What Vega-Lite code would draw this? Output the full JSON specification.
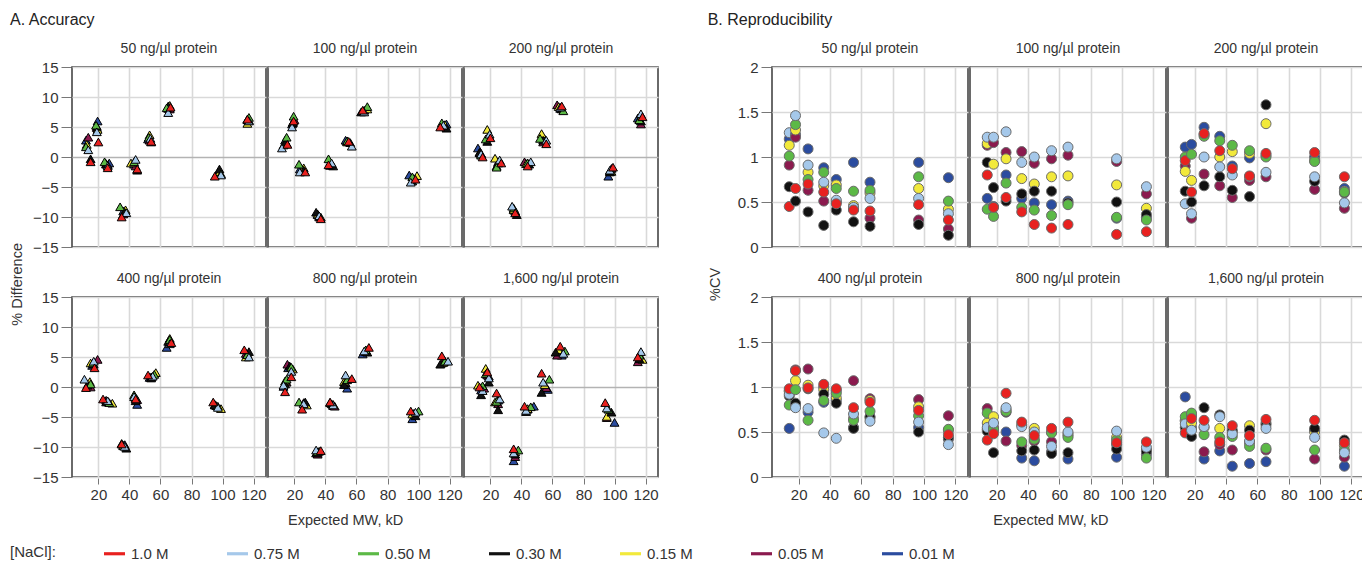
{
"$schema": "https://vega.github.io/schema/vega-lite/v6.json",
"padding": {"left": 10, "top": 12, "right": 2, "bottom": 2},
"config": {
 "font": "Liberation Sans",
 "view": {"stroke": "#3a3a3a", "strokeWidth": 1.5},
 "axis": {"labelFontSize": 15, "labelColor": "#333", "tickColor": "#777", "tickSize": 8, "labelPadding": 3, "gridColor": "#d9d9d9", "gridWidth": 1.6, "domain": false, "title": null},
 "header": {"labelFontSize": 14, "labelColor": "#333"}
},
"datasets": {
"a": [
{"c":50,"n":"0.01","x":12,"y":2.8},{"c":50,"n":"0.05","x":13.5,"y":3.3},{"c":50,"n":"0.15","x":12.5,"y":2.1},{"c":50,"n":"0.30","x":15,"y":-0.3},{"c":50,"n":"0.50","x":12,"y":1.7},{"c":50,"n":"0.75","x":13.5,"y":1.2},{"c":50,"n":"1.0","x":15,"y":-0.8},
{"c":50,"n":"0.01","x":19.5,"y":6},{"c":50,"n":"0.05","x":19,"y":4.9},{"c":50,"n":"0.15","x":19.5,"y":4.6},{"c":50,"n":"0.30","x":19,"y":5.1},{"c":50,"n":"0.50","x":18.5,"y":5.3},{"c":50,"n":"0.75","x":19,"y":4.2},{"c":50,"n":"1.0","x":20,"y":2.5},
{"c":50,"n":"0.01","x":27,"y":-1},{"c":50,"n":"0.05","x":26,"y":-1.3},{"c":50,"n":"0.15","x":25,"y":-1.1},{"c":50,"n":"0.30","x":25,"y":-1.2},{"c":50,"n":"0.50","x":24,"y":-0.8},{"c":50,"n":"0.75","x":26,"y":-1.5},{"c":50,"n":"1.0","x":26,"y":-1.8},
{"c":50,"n":"0.01","x":36,"y":-9},{"c":50,"n":"0.05","x":36,"y":-9.5},{"c":50,"n":"0.15","x":37.5,"y":-8.8},{"c":50,"n":"0.30","x":37,"y":-9.2},{"c":50,"n":"0.50","x":34,"y":-8.3},{"c":50,"n":"0.75","x":38,"y":-9.3},{"c":50,"n":"1.0","x":35,"y":-10},
{"c":50,"n":"0.01","x":43,"y":-1.2},{"c":50,"n":"0.05","x":44,"y":-1.5},{"c":50,"n":"0.15","x":41,"y":-1},{"c":50,"n":"0.30","x":45,"y":-2.2},{"c":50,"n":"0.50","x":43,"y":-0.8},{"c":50,"n":"0.75","x":44,"y":-0.4},{"c":50,"n":"1.0","x":45,"y":-2},
{"c":50,"n":"0.01","x":52,"y":3},{"c":50,"n":"0.05","x":53,"y":2.8},{"c":50,"n":"0.15","x":53,"y":3.7},{"c":50,"n":"0.30","x":54,"y":2.5},{"c":50,"n":"0.50","x":52.5,"y":3.3},{"c":50,"n":"0.75","x":53.5,"y":3.1},{"c":50,"n":"1.0","x":54,"y":2.6},
{"c":50,"n":"0.01","x":65,"y":8.1},{"c":50,"n":"0.05","x":66,"y":8},{"c":50,"n":"0.15","x":66,"y":8.6},{"c":50,"n":"0.30","x":65,"y":8.5},{"c":50,"n":"0.50","x":64,"y":8.2},{"c":50,"n":"0.75","x":65,"y":7.4},{"c":50,"n":"1.0","x":66.5,"y":8.3},
{"c":50,"n":"0.01","x":97,"y":-2.6},{"c":50,"n":"0.05","x":97,"y":-2.7},{"c":50,"n":"0.15","x":98,"y":-2.5},{"c":50,"n":"0.30","x":98,"y":-2},{"c":50,"n":"0.50","x":99,"y":-2.8},{"c":50,"n":"0.75","x":99,"y":-3},{"c":50,"n":"1.0","x":95,"y":-3.2},
{"c":50,"n":"0.01","x":116,"y":6.3},{"c":50,"n":"0.05","x":116,"y":6.2},{"c":50,"n":"0.15","x":116,"y":5.6},{"c":50,"n":"0.30","x":117,"y":6.1},{"c":50,"n":"0.50","x":117,"y":6.6},{"c":50,"n":"0.75","x":117,"y":6},{"c":50,"n":"1.0","x":116,"y":6.3},
{"c":100,"n":"0.01","x":14,"y":2.8},{"c":100,"n":"0.05","x":15,"y":2.3},{"c":100,"n":"0.15","x":13,"y":2},{"c":100,"n":"0.30","x":14.5,"y":2.5},{"c":100,"n":"0.50","x":15,"y":3.3},{"c":100,"n":"0.75","x":12,"y":1.5},{"c":100,"n":"1.0","x":15.5,"y":2.1},
{"c":100,"n":"0.01","x":18.5,"y":5.5},{"c":100,"n":"0.05","x":20,"y":6.2},{"c":100,"n":"0.15","x":19,"y":5.8},{"c":100,"n":"0.30","x":19,"y":5.7},{"c":100,"n":"0.50","x":19.5,"y":6.8},{"c":100,"n":"0.75","x":18.5,"y":5},{"c":100,"n":"1.0","x":19.5,"y":6},
{"c":100,"n":"0.01","x":23.5,"y":-2},{"c":100,"n":"0.05","x":25,"y":-2.3},{"c":100,"n":"0.15","x":26,"y":-1.8},{"c":100,"n":"0.30","x":26,"y":-2.2},{"c":100,"n":"0.50","x":23,"y":-1.2},{"c":100,"n":"0.75","x":23.5,"y":-2.5},{"c":100,"n":"1.0","x":27,"y":-2.5},
{"c":100,"n":"0.01","x":35,"y":-9.6},{"c":100,"n":"0.05","x":36,"y":-10},{"c":100,"n":"0.15","x":35,"y":-9.5},{"c":100,"n":"0.30","x":34,"y":-9.2},{"c":100,"n":"0.50","x":37,"y":-10},{"c":100,"n":"0.75","x":36,"y":-9.8},{"c":100,"n":"1.0","x":37,"y":-10.3},
{"c":100,"n":"0.01","x":43,"y":-1.1},{"c":100,"n":"0.05","x":43,"y":-1.4},{"c":100,"n":"0.15","x":44,"y":-1.2},{"c":100,"n":"0.30","x":45,"y":-1.5},{"c":100,"n":"0.50","x":42,"y":-0.3},{"c":100,"n":"0.75","x":44,"y":-1},{"c":100,"n":"1.0","x":42,"y":-1.3},
{"c":100,"n":"0.01","x":53,"y":2.8},{"c":100,"n":"0.05","x":54,"y":2.6},{"c":100,"n":"0.15","x":54,"y":2.5},{"c":100,"n":"0.30","x":56,"y":2.4},{"c":100,"n":"0.50","x":54,"y":2.7},{"c":100,"n":"0.75","x":57,"y":1.8},{"c":100,"n":"1.0","x":55,"y":2.6},
{"c":100,"n":"0.01","x":64,"y":7.6},{"c":100,"n":"0.05","x":65,"y":7.8},{"c":100,"n":"0.15","x":67,"y":8},{"c":100,"n":"0.30","x":63,"y":7.5},{"c":100,"n":"0.50","x":67,"y":8.4},{"c":100,"n":"0.75","x":65,"y":7.5},{"c":100,"n":"1.0","x":64,"y":7.8},
{"c":100,"n":"0.01","x":94,"y":-3},{"c":100,"n":"0.05","x":97,"y":-3.6},{"c":100,"n":"0.15","x":99,"y":-3.1},{"c":100,"n":"0.30","x":96,"y":-4},{"c":100,"n":"0.50","x":96,"y":-3.3},{"c":100,"n":"0.75","x":95,"y":-4.2},{"c":100,"n":"1.0","x":98,"y":-3.7},
{"c":100,"n":"0.01","x":118,"y":5.5},{"c":100,"n":"0.05","x":116,"y":5.2},{"c":100,"n":"0.15","x":117,"y":5.4},{"c":100,"n":"0.30","x":118,"y":4.8},{"c":100,"n":"0.50","x":115,"y":5.7},{"c":100,"n":"0.75","x":116,"y":5.3},{"c":100,"n":"1.0","x":114,"y":5},
{"c":200,"n":"0.01","x":12,"y":1.5},{"c":200,"n":"0.05","x":14,"y":0.6},{"c":200,"n":"0.15","x":13,"y":0.8},{"c":200,"n":"0.30","x":13,"y":0.7},{"c":200,"n":"0.50","x":14,"y":0.3},{"c":200,"n":"0.75","x":14,"y":0.5},{"c":200,"n":"1.0","x":15,"y":0},
{"c":200,"n":"0.01","x":19,"y":3.6},{"c":200,"n":"0.05","x":19,"y":3.4},{"c":200,"n":"0.15","x":18,"y":4.6},{"c":200,"n":"0.30","x":18,"y":2.6},{"c":200,"n":"0.50","x":17,"y":3},{"c":200,"n":"0.75","x":19.5,"y":3.8},{"c":200,"n":"1.0","x":20,"y":3.2},
{"c":200,"n":"0.01","x":25,"y":-0.8},{"c":200,"n":"0.05","x":25,"y":-1},{"c":200,"n":"0.15","x":23,"y":-0.2},{"c":200,"n":"0.30","x":24,"y":-1.5},{"c":200,"n":"0.50","x":24,"y":-1.7},{"c":200,"n":"0.75","x":26,"y":-0.5},{"c":200,"n":"1.0","x":27,"y":-1},
{"c":200,"n":"0.01","x":35,"y":-8.7},{"c":200,"n":"0.05","x":36,"y":-9},{"c":200,"n":"0.15","x":35,"y":-8.8},{"c":200,"n":"0.30","x":37,"y":-9.6},{"c":200,"n":"0.50","x":35,"y":-8.5},{"c":200,"n":"0.75","x":34,"y":-8.2},{"c":200,"n":"1.0","x":36,"y":-9.3},
{"c":200,"n":"0.01","x":44,"y":-1},{"c":200,"n":"0.05","x":42,"y":-0.8},{"c":200,"n":"0.15","x":43,"y":-1.1},{"c":200,"n":"0.30","x":45,"y":-1.2},{"c":200,"n":"0.50","x":44,"y":-1},{"c":200,"n":"0.75","x":46,"y":-0.8},{"c":200,"n":"1.0","x":44,"y":-1.5},
{"c":200,"n":"0.01","x":55,"y":3},{"c":200,"n":"0.05","x":54,"y":2.5},{"c":200,"n":"0.15","x":53,"y":3.9},{"c":200,"n":"0.30","x":54,"y":2.8},{"c":200,"n":"0.50","x":52,"y":3.1},{"c":200,"n":"0.75","x":56,"y":2.8},{"c":200,"n":"1.0","x":56,"y":2.2},
{"c":200,"n":"0.01","x":65,"y":8.1},{"c":200,"n":"0.05","x":63,"y":8.7},{"c":200,"n":"0.15","x":64,"y":8.4},{"c":200,"n":"0.30","x":66,"y":8},{"c":200,"n":"0.50","x":67,"y":7.7},{"c":200,"n":"0.75","x":65,"y":8.3},{"c":200,"n":"1.0","x":66,"y":8.5},
{"c":200,"n":"0.01","x":96,"y":-3.2},{"c":200,"n":"0.05","x":98,"y":-1.9},{"c":200,"n":"0.15","x":98,"y":-2.4},{"c":200,"n":"0.30","x":97,"y":-2.5},{"c":200,"n":"0.50","x":97,"y":-2.3},{"c":200,"n":"0.75","x":97,"y":-2.2},{"c":200,"n":"1.0","x":99,"y":-1.7},
{"c":200,"n":"0.01","x":115,"y":6.5},{"c":200,"n":"0.05","x":117,"y":5.5},{"c":200,"n":"0.15","x":116,"y":6.3},{"c":200,"n":"0.30","x":117,"y":6},{"c":200,"n":"0.50","x":116,"y":6.2},{"c":200,"n":"0.75","x":117,"y":7.2},{"c":200,"n":"1.0","x":118,"y":6.7},
{"c":400,"n":"0.01","x":13,"y":0.4},{"c":400,"n":"0.05","x":15,"y":0},{"c":400,"n":"0.15","x":14.5,"y":0.9},{"c":400,"n":"0.30","x":13,"y":0.3},{"c":400,"n":"0.50","x":15,"y":0.5},{"c":400,"n":"0.75","x":11,"y":1.3},{"c":400,"n":"1.0","x":12,"y":-0.1},
{"c":400,"n":"0.01","x":16,"y":3.6},{"c":400,"n":"0.05","x":19.5,"y":4.6},{"c":400,"n":"0.15","x":15,"y":4},{"c":400,"n":"0.30","x":17,"y":3.8},{"c":400,"n":"0.50","x":16.5,"y":4},{"c":400,"n":"0.75","x":17,"y":4.3},{"c":400,"n":"1.0","x":17.5,"y":3.2},
{"c":400,"n":"0.01","x":26,"y":-2.4},{"c":400,"n":"0.05","x":25,"y":-2.2},{"c":400,"n":"0.15","x":29,"y":-2.7},{"c":400,"n":"0.30","x":25,"y":-2.5},{"c":400,"n":"0.50","x":27,"y":-2.6},{"c":400,"n":"0.75","x":26,"y":-2.3},{"c":400,"n":"1.0","x":23,"y":-2},
{"c":400,"n":"0.01","x":37,"y":-9.6},{"c":400,"n":"0.05","x":36,"y":-9.8},{"c":400,"n":"0.15","x":36,"y":-9.7},{"c":400,"n":"0.30","x":38,"y":-10.2},{"c":400,"n":"0.50","x":35,"y":-9.4},{"c":400,"n":"0.75","x":37,"y":-9.9},{"c":400,"n":"1.0","x":35,"y":-9.5},
{"c":400,"n":"0.01","x":45,"y":-2.9},{"c":400,"n":"0.05","x":45,"y":-2.1},{"c":400,"n":"0.15","x":44,"y":-1.8},{"c":400,"n":"0.30","x":44,"y":-2.3},{"c":400,"n":"0.50","x":43,"y":-1.3},{"c":400,"n":"0.75","x":43,"y":-1.6},{"c":400,"n":"1.0","x":44,"y":-2},
{"c":400,"n":"0.01","x":53,"y":1.6},{"c":400,"n":"0.05","x":54,"y":1.7},{"c":400,"n":"0.15","x":57,"y":2.4},{"c":400,"n":"0.30","x":54,"y":1.5},{"c":400,"n":"0.50","x":56,"y":2.1},{"c":400,"n":"0.75","x":55,"y":1.8},{"c":400,"n":"1.0","x":52,"y":2},
{"c":400,"n":"0.01","x":64,"y":6.6},{"c":400,"n":"0.05","x":66,"y":7.5},{"c":400,"n":"0.15","x":66,"y":8.1},{"c":400,"n":"0.30","x":65,"y":7.6},{"c":400,"n":"0.50","x":66,"y":7.9},{"c":400,"n":"0.75","x":66,"y":7.2},{"c":400,"n":"1.0","x":67,"y":7.4},
{"c":400,"n":"0.01","x":96,"y":-3.1},{"c":400,"n":"0.05","x":95,"y":-2.9},{"c":400,"n":"0.15","x":99,"y":-3.6},{"c":400,"n":"0.30","x":95,"y":-3},{"c":400,"n":"0.50","x":97,"y":-3.2},{"c":400,"n":"0.75","x":97,"y":-3.4},{"c":400,"n":"1.0","x":94,"y":-2.5},
{"c":400,"n":"0.01","x":116,"y":5.5},{"c":400,"n":"0.05","x":115,"y":5.6},{"c":400,"n":"0.15","x":115,"y":5},{"c":400,"n":"0.30","x":117,"y":5.9},{"c":400,"n":"0.50","x":116,"y":5.4},{"c":400,"n":"0.75","x":117,"y":5},{"c":400,"n":"1.0","x":114,"y":6.2},
{"c":800,"n":"0.01","x":13,"y":0.1},{"c":800,"n":"0.05","x":15,"y":0.8},{"c":800,"n":"0.15","x":14,"y":1},{"c":800,"n":"0.30","x":14,"y":0.5},{"c":800,"n":"0.50","x":15,"y":1.3},{"c":800,"n":"0.75","x":13,"y":0.3},{"c":800,"n":"1.0","x":14,"y":-0.8},
{"c":800,"n":"0.01","x":16,"y":3.2},{"c":800,"n":"0.05","x":15.5,"y":3.8},{"c":800,"n":"0.15","x":19,"y":3},{"c":800,"n":"0.30","x":17,"y":3.5},{"c":800,"n":"0.50","x":18,"y":3.3},{"c":800,"n":"0.75","x":18,"y":2.6},{"c":800,"n":"1.0","x":18,"y":1.7},
{"c":800,"n":"0.01","x":27,"y":-2.7},{"c":800,"n":"0.05","x":26,"y":-2.6},{"c":800,"n":"0.15","x":28,"y":-3},{"c":800,"n":"0.30","x":27,"y":-2.5},{"c":800,"n":"0.50","x":23,"y":-2.5},{"c":800,"n":"0.75","x":26,"y":-2.8},{"c":800,"n":"1.0","x":25,"y":-3.7},
{"c":800,"n":"0.01","x":35,"y":-10.9},{"c":800,"n":"0.05","x":35,"y":-11.2},{"c":800,"n":"0.15","x":36,"y":-10.7},{"c":800,"n":"0.30","x":34,"y":-11},{"c":800,"n":"0.50","x":35,"y":-10.8},{"c":800,"n":"0.75","x":34,"y":-10.5},{"c":800,"n":"1.0","x":37,"y":-10.6},
{"c":800,"n":"0.01","x":45,"y":-3.1},{"c":800,"n":"0.05","x":46,"y":-3.2},{"c":800,"n":"0.15","x":45,"y":-2.9},{"c":800,"n":"0.30","x":44,"y":-2.8},{"c":800,"n":"0.50","x":43,"y":-2.6},{"c":800,"n":"0.75","x":45,"y":-3},{"c":800,"n":"1.0","x":43,"y":-2.5},
{"c":800,"n":"0.01","x":54,"y":-0.2},{"c":800,"n":"0.05","x":53,"y":0.7},{"c":800,"n":"0.15","x":52,"y":0.9},{"c":800,"n":"0.30","x":52,"y":0.4},{"c":800,"n":"0.50","x":54,"y":1.2},{"c":800,"n":"0.75","x":53,"y":2},{"c":800,"n":"1.0","x":57,"y":1.4},
{"c":800,"n":"0.01","x":64,"y":5.5},{"c":800,"n":"0.05","x":66,"y":5.9},{"c":800,"n":"0.15","x":66,"y":6.1},{"c":800,"n":"0.30","x":67,"y":5.8},{"c":800,"n":"0.50","x":66,"y":6.2},{"c":800,"n":"0.75","x":65,"y":6},{"c":800,"n":"1.0","x":68,"y":6.6},
{"c":800,"n":"0.01","x":96,"y":-5.3},{"c":800,"n":"0.05","x":97,"y":-4.4},{"c":800,"n":"0.15","x":96,"y":-4.5},{"c":800,"n":"0.30","x":98,"y":-4.8},{"c":800,"n":"0.50","x":100,"y":-4},{"c":800,"n":"0.75","x":98,"y":-4.2},{"c":800,"n":"1.0","x":95,"y":-4},
{"c":800,"n":"0.01","x":116,"y":4.2},{"c":800,"n":"0.05","x":115,"y":4},{"c":800,"n":"0.15","x":116,"y":4.1},{"c":800,"n":"0.30","x":114,"y":3.8},{"c":800,"n":"0.50","x":117,"y":4.3},{"c":800,"n":"0.75","x":119,"y":4.3},{"c":800,"n":"1.0","x":115,"y":5.2},
{"c":1600,"n":"0.01","x":14,"y":-0.5},{"c":1600,"n":"0.05","x":16,"y":-0.2},{"c":1600,"n":"0.15","x":12,"y":0.3},{"c":1600,"n":"0.30","x":14,"y":-1.3},{"c":1600,"n":"0.50","x":15,"y":0.2},{"c":1600,"n":"0.75","x":15,"y":-0.6},{"c":1600,"n":"1.0","x":13,"y":0},
{"c":1600,"n":"0.01","x":19,"y":1.8},{"c":1600,"n":"0.05","x":18,"y":2},{"c":1600,"n":"0.15","x":17,"y":3.1},{"c":1600,"n":"0.30","x":19,"y":0.8},{"c":1600,"n":"0.50","x":17,"y":2.2},{"c":1600,"n":"0.75","x":19,"y":1.5},{"c":1600,"n":"1.0","x":18,"y":2.5},
{"c":1600,"n":"0.01","x":25,"y":-2.2},{"c":1600,"n":"0.05","x":25,"y":-2.8},{"c":1600,"n":"0.15","x":23,"y":-2.5},{"c":1600,"n":"0.30","x":25,"y":-3.8},{"c":1600,"n":"0.50","x":24,"y":-2.4},{"c":1600,"n":"0.75","x":26,"y":-2},{"c":1600,"n":"1.0","x":24,"y":-1},
{"c":1600,"n":"0.01","x":35,"y":-12.3},{"c":1600,"n":"0.05","x":36,"y":-11.6},{"c":1600,"n":"0.15","x":36,"y":-10.8},{"c":1600,"n":"0.30","x":36,"y":-11.2},{"c":1600,"n":"0.50","x":38,"y":-10.5},{"c":1600,"n":"0.75","x":35,"y":-11},{"c":1600,"n":"1.0","x":35,"y":-10.3},
{"c":1600,"n":"0.01","x":48,"y":-3.2},{"c":1600,"n":"0.05","x":44,"y":-3.7},{"c":1600,"n":"0.15","x":44,"y":-3.6},{"c":1600,"n":"0.30","x":43,"y":-4.1},{"c":1600,"n":"0.50","x":46,"y":-3.3},{"c":1600,"n":"0.75","x":43,"y":-3.9},{"c":1600,"n":"1.0","x":42,"y":-3.2},
{"c":1600,"n":"0.01","x":57,"y":-0.4},{"c":1600,"n":"0.05","x":56,"y":-0.1},{"c":1600,"n":"0.15","x":55,"y":0.4},{"c":1600,"n":"0.30","x":53,"y":-0.9},{"c":1600,"n":"0.50","x":58,"y":1.3},{"c":1600,"n":"0.75","x":54,"y":0.8},{"c":1600,"n":"1.0","x":53,"y":2.3},
{"c":1600,"n":"0.01","x":66,"y":5.3},{"c":1600,"n":"0.05","x":63,"y":5.3},{"c":1600,"n":"0.15","x":64,"y":6.2},{"c":1600,"n":"0.30","x":62,"y":5.8},{"c":1600,"n":"0.50","x":68,"y":6},{"c":1600,"n":"0.75","x":67,"y":5.6},{"c":1600,"n":"1.0","x":65,"y":6.8},
{"c":1600,"n":"0.01","x":100,"y":-5.9},{"c":1600,"n":"0.05","x":95,"y":-5.1},{"c":1600,"n":"0.15","x":95,"y":-4.9},{"c":1600,"n":"0.30","x":98,"y":-4.2},{"c":1600,"n":"0.50","x":96,"y":-3.7},{"c":1600,"n":"0.75","x":95,"y":-3.5},{"c":1600,"n":"1.0","x":94,"y":-2.6},
{"c":1600,"n":"0.01","x":117,"y":4.8},{"c":1600,"n":"0.05","x":115,"y":4.2},{"c":1600,"n":"0.15","x":118,"y":4.6},{"c":1600,"n":"0.30","x":116,"y":4.7},{"c":1600,"n":"0.50","x":116,"y":5.3},{"c":1600,"n":"0.75","x":117,"y":5.9},{"c":1600,"n":"1.0","x":115,"y":5}
],
"b": [
{"c":50,"n":"0.01","x":14,"y":1.2},{"c":50,"n":"0.05","x":14,"y":0.91},{"c":50,"n":"0.15","x":14,"y":1.13},{"c":50,"n":"0.30","x":14,"y":0.67},{"c":50,"n":"0.50","x":14,"y":1.01},{"c":50,"n":"0.75","x":14,"y":1.27},{"c":50,"n":"1.0","x":14,"y":0.45},
{"c":50,"n":"0.01","x":18,"y":1.25},{"c":50,"n":"0.05","x":18,"y":1.22},{"c":50,"n":"0.15","x":18,"y":1.3},{"c":50,"n":"0.30","x":18,"y":0.51},{"c":50,"n":"0.50","x":18,"y":1.36},{"c":50,"n":"0.75","x":18,"y":1.46},{"c":50,"n":"1.0","x":18,"y":0.65},
{"c":50,"n":"0.01","x":26,"y":1.09},{"c":50,"n":"0.05","x":26,"y":0.63},{"c":50,"n":"0.15","x":26,"y":0.83},{"c":50,"n":"0.30","x":26,"y":0.39},{"c":50,"n":"0.50","x":26,"y":0.75},{"c":50,"n":"0.75","x":26,"y":0.91},{"c":50,"n":"1.0","x":26,"y":0.7},
{"c":50,"n":"0.01","x":36,"y":0.88},{"c":50,"n":"0.05","x":36,"y":0.51},{"c":50,"n":"0.15","x":36,"y":0.68},{"c":50,"n":"0.30","x":36,"y":0.24},{"c":50,"n":"0.50","x":36,"y":0.83},{"c":50,"n":"0.75","x":36,"y":0.72},{"c":50,"n":"1.0","x":36,"y":0.61},
{"c":50,"n":"0.01","x":44,"y":0.75},{"c":50,"n":"0.05","x":44,"y":0.5},{"c":50,"n":"0.15","x":44,"y":0.69},{"c":50,"n":"0.30","x":44,"y":0.41},{"c":50,"n":"0.50","x":44,"y":0.65},{"c":50,"n":"0.75","x":44,"y":0.52},{"c":50,"n":"1.0","x":44,"y":0.48},
{"c":50,"n":"0.01","x":55,"y":0.94},{"c":50,"n":"0.05","x":55,"y":0.42},{"c":50,"n":"0.15","x":55,"y":0.46},{"c":50,"n":"0.30","x":55,"y":0.28},{"c":50,"n":"0.50","x":55,"y":0.62},{"c":50,"n":"0.75","x":55,"y":0.44},{"c":50,"n":"1.0","x":55,"y":0.41},
{"c":50,"n":"0.01","x":65.5,"y":0.72},{"c":50,"n":"0.05","x":65.5,"y":0.32},{"c":50,"n":"0.15","x":65.5,"y":0.6},{"c":50,"n":"0.30","x":65.5,"y":0.23},{"c":50,"n":"0.50","x":65.5,"y":0.63},{"c":50,"n":"0.75","x":65.5,"y":0.54},{"c":50,"n":"1.0","x":65.5,"y":0.4},
{"c":50,"n":"0.01","x":96.5,"y":0.94},{"c":50,"n":"0.05","x":96.5,"y":0.3},{"c":50,"n":"0.15","x":96.5,"y":0.65},{"c":50,"n":"0.30","x":96.5,"y":0.25},{"c":50,"n":"0.50","x":96.5,"y":0.78},{"c":50,"n":"0.75","x":96.5,"y":0.54},{"c":50,"n":"1.0","x":96.5,"y":0.47},
{"c":50,"n":"0.01","x":115.5,"y":0.77},{"c":50,"n":"0.05","x":115.5,"y":0.2},{"c":50,"n":"0.15","x":115.5,"y":0.42},{"c":50,"n":"0.30","x":115.5,"y":0.13},{"c":50,"n":"0.50","x":115.5,"y":0.51},{"c":50,"n":"0.75","x":115.5,"y":0.37},{"c":50,"n":"1.0","x":115.5,"y":0.3},
{"c":100,"n":"0.01","x":14,"y":0.54},{"c":100,"n":"0.05","x":14,"y":1.13},{"c":100,"n":"0.15","x":14,"y":1.15},{"c":100,"n":"0.30","x":14,"y":0.94},{"c":100,"n":"0.50","x":14,"y":0.42},{"c":100,"n":"0.75","x":14,"y":1.22},{"c":100,"n":"1.0","x":14,"y":0.8},
{"c":100,"n":"0.01","x":18,"y":0.45},{"c":100,"n":"0.05","x":18,"y":1.16},{"c":100,"n":"0.15","x":18,"y":0.92},{"c":100,"n":"0.30","x":18,"y":0.66},{"c":100,"n":"0.50","x":18,"y":0.34},{"c":100,"n":"0.75","x":18,"y":1.22},{"c":100,"n":"1.0","x":18,"y":0.44},
{"c":100,"n":"0.01","x":26,"y":0.8},{"c":100,"n":"0.05","x":26,"y":1.05},{"c":100,"n":"0.15","x":26,"y":0.98},{"c":100,"n":"0.30","x":26,"y":0.51},{"c":100,"n":"0.50","x":26,"y":0.71},{"c":100,"n":"0.75","x":26,"y":1.28},{"c":100,"n":"1.0","x":26,"y":0.55},
{"c":100,"n":"0.01","x":36,"y":0.54},{"c":100,"n":"0.05","x":36,"y":1.06},{"c":100,"n":"0.15","x":36,"y":0.76},{"c":100,"n":"0.30","x":36,"y":0.59},{"c":100,"n":"0.50","x":36,"y":0.44},{"c":100,"n":"0.75","x":36,"y":0.94},{"c":100,"n":"1.0","x":36,"y":0.39},
{"c":100,"n":"0.01","x":44,"y":0.49},{"c":100,"n":"0.05","x":44,"y":0.93},{"c":100,"n":"0.15","x":44,"y":0.7},{"c":100,"n":"0.30","x":44,"y":0.62},{"c":100,"n":"0.50","x":44,"y":0.41},{"c":100,"n":"0.75","x":44,"y":1.0},{"c":100,"n":"1.0","x":44,"y":0.25},
{"c":100,"n":"0.01","x":55,"y":0.47},{"c":100,"n":"0.05","x":55,"y":0.98},{"c":100,"n":"0.15","x":55,"y":0.78},{"c":100,"n":"0.30","x":55,"y":0.62},{"c":100,"n":"0.50","x":55,"y":0.35},{"c":100,"n":"0.75","x":55,"y":1.07},{"c":100,"n":"1.0","x":55,"y":0.21},
{"c":100,"n":"0.01","x":65.5,"y":0.51},{"c":100,"n":"0.05","x":65.5,"y":1.02},{"c":100,"n":"0.15","x":65.5,"y":0.79},{"c":100,"n":"0.30","x":65.5,"y":0.49},{"c":100,"n":"0.50","x":65.5,"y":0.47},{"c":100,"n":"0.75","x":65.5,"y":1.11},{"c":100,"n":"1.0","x":65.5,"y":0.25},
{"c":100,"n":"0.01","x":96.5,"y":0.32},{"c":100,"n":"0.05","x":96.5,"y":0.95},{"c":100,"n":"0.15","x":96.5,"y":0.69},{"c":100,"n":"0.30","x":96.5,"y":0.5},{"c":100,"n":"0.50","x":96.5,"y":0.33},{"c":100,"n":"0.75","x":96.5,"y":0.98},{"c":100,"n":"1.0","x":96.5,"y":0.14},
{"c":100,"n":"0.01","x":115.5,"y":0.33},{"c":100,"n":"0.05","x":115.5,"y":0.59},{"c":100,"n":"0.15","x":115.5,"y":0.43},{"c":100,"n":"0.30","x":115.5,"y":0.36},{"c":100,"n":"0.50","x":115.5,"y":0.3},{"c":100,"n":"0.75","x":115.5,"y":0.67},{"c":100,"n":"1.0","x":115.5,"y":0.17},
{"c":200,"n":"0.01","x":14,"y":1.11},{"c":200,"n":"0.05","x":14,"y":0.9},{"c":200,"n":"0.15","x":14,"y":0.84},{"c":200,"n":"0.30","x":14,"y":0.62},{"c":200,"n":"0.50","x":14,"y":1.0},{"c":200,"n":"0.75","x":14,"y":0.48},{"c":200,"n":"1.0","x":14,"y":0.96},
{"c":200,"n":"0.01","x":18,"y":1.14},{"c":200,"n":"0.05","x":18,"y":0.32},{"c":200,"n":"0.15","x":18,"y":0.74},{"c":200,"n":"0.30","x":18,"y":0.5},{"c":200,"n":"0.50","x":18,"y":1.03},{"c":200,"n":"0.75","x":18,"y":0.37},{"c":200,"n":"1.0","x":18,"y":0.61},
{"c":200,"n":"0.01","x":26,"y":1.33},{"c":200,"n":"0.05","x":26,"y":0.81},{"c":200,"n":"0.15","x":26,"y":1.25},{"c":200,"n":"0.30","x":26,"y":0.68},{"c":200,"n":"0.50","x":26,"y":1.23},{"c":200,"n":"0.75","x":26,"y":1.0},{"c":200,"n":"1.0","x":26,"y":1.26},
{"c":200,"n":"0.01","x":36,"y":1.23},{"c":200,"n":"0.05","x":36,"y":0.68},{"c":200,"n":"0.15","x":36,"y":1.0},{"c":200,"n":"0.30","x":36,"y":0.78},{"c":200,"n":"0.50","x":36,"y":1.18},{"c":200,"n":"0.75","x":36,"y":0.89},{"c":200,"n":"1.0","x":36,"y":1.07},
{"c":200,"n":"0.01","x":44,"y":0.9},{"c":200,"n":"0.05","x":44,"y":0.55},{"c":200,"n":"0.15","x":44,"y":1.06},{"c":200,"n":"0.30","x":44,"y":0.63},{"c":200,"n":"0.50","x":44,"y":1.13},{"c":200,"n":"0.75","x":44,"y":0.8},{"c":200,"n":"1.0","x":44,"y":0.87},
{"c":200,"n":"0.01","x":55,"y":0.99},{"c":200,"n":"0.05","x":55,"y":0.74},{"c":200,"n":"0.15","x":55,"y":1.04},{"c":200,"n":"0.30","x":55,"y":0.56},{"c":200,"n":"0.50","x":55,"y":1.07},{"c":200,"n":"0.75","x":55,"y":0.78},{"c":200,"n":"1.0","x":55,"y":0.79},
{"c":200,"n":"0.01","x":65.5,"y":1.02},{"c":200,"n":"0.05","x":65.5,"y":0.78},{"c":200,"n":"0.15","x":65.5,"y":1.37},{"c":200,"n":"0.30","x":65.5,"y":1.58},{"c":200,"n":"0.50","x":65.5,"y":1.0},{"c":200,"n":"0.75","x":65.5,"y":0.83},{"c":200,"n":"1.0","x":65.5,"y":1.04},
{"c":200,"n":"0.01","x":96.5,"y":1.0},{"c":200,"n":"0.05","x":96.5,"y":0.64},{"c":200,"n":"0.15","x":96.5,"y":0.96},{"c":200,"n":"0.30","x":96.5,"y":0.73},{"c":200,"n":"0.50","x":96.5,"y":0.95},{"c":200,"n":"0.75","x":96.5,"y":0.78},{"c":200,"n":"1.0","x":96.5,"y":1.05},
{"c":200,"n":"0.01","x":115.5,"y":0.65},{"c":200,"n":"0.05","x":115.5,"y":0.43},{"c":200,"n":"0.15","x":115.5,"y":0.62},{"c":200,"n":"0.30","x":115.5,"y":0.6},{"c":200,"n":"0.50","x":115.5,"y":0.61},{"c":200,"n":"0.75","x":115.5,"y":0.49},{"c":200,"n":"1.0","x":115.5,"y":0.78},
{"c":400,"n":"0.01","x":14,"y":0.54},{"c":400,"n":"0.05","x":14,"y":0.96},{"c":400,"n":"0.15","x":14,"y":0.95},{"c":400,"n":"0.30","x":14,"y":0.9},{"c":400,"n":"0.50","x":14,"y":0.8},{"c":400,"n":"0.75","x":14,"y":0.92},{"c":400,"n":"1.0","x":14,"y":0.98},
{"c":400,"n":"0.01","x":18,"y":0.8},{"c":400,"n":"0.05","x":18,"y":1.19},{"c":400,"n":"0.15","x":18,"y":1.07},{"c":400,"n":"0.30","x":18,"y":0.82},{"c":400,"n":"0.50","x":18,"y":0.97},{"c":400,"n":"0.75","x":18,"y":0.77},{"c":400,"n":"1.0","x":18,"y":1.18},
{"c":400,"n":"0.01","x":26,"y":0.72},{"c":400,"n":"0.05","x":26,"y":1.2},{"c":400,"n":"0.15","x":26,"y":1.02},{"c":400,"n":"0.30","x":26,"y":0.98},{"c":400,"n":"0.50","x":26,"y":0.63},{"c":400,"n":"0.75","x":26,"y":0.76},{"c":400,"n":"1.0","x":26,"y":0.99},
{"c":400,"n":"0.01","x":36,"y":0.83},{"c":400,"n":"0.05","x":36,"y":1.0},{"c":400,"n":"0.15","x":36,"y":0.97},{"c":400,"n":"0.30","x":36,"y":0.92},{"c":400,"n":"0.50","x":36,"y":0.85},{"c":400,"n":"0.75","x":36,"y":0.49},{"c":400,"n":"1.0","x":36,"y":1.03},
{"c":400,"n":"0.01","x":44,"y":0.85},{"c":400,"n":"0.05","x":44,"y":0.96},{"c":400,"n":"0.15","x":44,"y":0.88},{"c":400,"n":"0.30","x":44,"y":0.82},{"c":400,"n":"0.50","x":44,"y":0.93},{"c":400,"n":"0.75","x":44,"y":0.43},{"c":400,"n":"1.0","x":44,"y":0.98},
{"c":400,"n":"0.01","x":55,"y":0.55},{"c":400,"n":"0.05","x":55,"y":1.07},{"c":400,"n":"0.15","x":55,"y":0.65},{"c":400,"n":"0.30","x":55,"y":0.54},{"c":400,"n":"0.50","x":55,"y":0.63},{"c":400,"n":"0.75","x":55,"y":0.7},{"c":400,"n":"1.0","x":55,"y":0.77},
{"c":400,"n":"0.01","x":65.5,"y":0.66},{"c":400,"n":"0.05","x":65.5,"y":0.87},{"c":400,"n":"0.15","x":65.5,"y":0.85},{"c":400,"n":"0.30","x":65.5,"y":0.67},{"c":400,"n":"0.50","x":65.5,"y":0.73},{"c":400,"n":"0.75","x":65.5,"y":0.62},{"c":400,"n":"1.0","x":65.5,"y":0.83},
{"c":400,"n":"0.01","x":96.5,"y":0.55},{"c":400,"n":"0.05","x":96.5,"y":0.86},{"c":400,"n":"0.15","x":96.5,"y":0.78},{"c":400,"n":"0.30","x":96.5,"y":0.5},{"c":400,"n":"0.50","x":96.5,"y":0.68},{"c":400,"n":"0.75","x":96.5,"y":0.61},{"c":400,"n":"1.0","x":96.5,"y":0.74},
{"c":400,"n":"0.01","x":115.5,"y":0.42},{"c":400,"n":"0.05","x":115.5,"y":0.68},{"c":400,"n":"0.15","x":115.5,"y":0.52},{"c":400,"n":"0.30","x":115.5,"y":0.44},{"c":400,"n":"0.50","x":115.5,"y":0.53},{"c":400,"n":"0.75","x":115.5,"y":0.36},{"c":400,"n":"1.0","x":115.5,"y":0.47},
{"c":800,"n":"0.01","x":14,"y":0.53},{"c":800,"n":"0.05","x":14,"y":0.76},{"c":800,"n":"0.15","x":14,"y":0.6},{"c":800,"n":"0.30","x":14,"y":0.51},{"c":800,"n":"0.50","x":14,"y":0.71},{"c":800,"n":"0.75","x":14,"y":0.55},{"c":800,"n":"1.0","x":14,"y":0.41},
{"c":800,"n":"0.01","x":18,"y":0.52},{"c":800,"n":"0.05","x":18,"y":0.55},{"c":800,"n":"0.15","x":18,"y":0.67},{"c":800,"n":"0.30","x":18,"y":0.27},{"c":800,"n":"0.50","x":18,"y":0.53},{"c":800,"n":"0.75","x":18,"y":0.6},{"c":800,"n":"1.0","x":18,"y":0.48},
{"c":800,"n":"0.01","x":26,"y":0.5},{"c":800,"n":"0.05","x":26,"y":0.4},{"c":800,"n":"0.15","x":26,"y":0.75},{"c":800,"n":"0.30","x":26,"y":0.72},{"c":800,"n":"0.50","x":26,"y":0.73},{"c":800,"n":"0.75","x":26,"y":0.77},{"c":800,"n":"1.0","x":26,"y":0.93},
{"c":800,"n":"0.01","x":36,"y":0.21},{"c":800,"n":"0.05","x":36,"y":0.35},{"c":800,"n":"0.15","x":36,"y":0.58},{"c":800,"n":"0.30","x":36,"y":0.29},{"c":800,"n":"0.50","x":36,"y":0.39},{"c":800,"n":"0.75","x":36,"y":0.56},{"c":800,"n":"1.0","x":36,"y":0.61},
{"c":800,"n":"0.01","x":44,"y":0.18},{"c":800,"n":"0.05","x":44,"y":0.4},{"c":800,"n":"0.15","x":44,"y":0.54},{"c":800,"n":"0.30","x":44,"y":0.3},{"c":800,"n":"0.50","x":44,"y":0.42},{"c":800,"n":"0.75","x":44,"y":0.5},{"c":800,"n":"1.0","x":44,"y":0.46},
{"c":800,"n":"0.01","x":55,"y":0.28},{"c":800,"n":"0.05","x":55,"y":0.39},{"c":800,"n":"0.15","x":55,"y":0.5},{"c":800,"n":"0.30","x":55,"y":0.26},{"c":800,"n":"0.50","x":55,"y":0.49},{"c":800,"n":"0.75","x":55,"y":0.34},{"c":800,"n":"1.0","x":55,"y":0.54},
{"c":800,"n":"0.01","x":65.5,"y":0.2},{"c":800,"n":"0.05","x":65.5,"y":0.46},{"c":800,"n":"0.15","x":65.5,"y":0.48},{"c":800,"n":"0.30","x":65.5,"y":0.27},{"c":800,"n":"0.50","x":65.5,"y":0.44},{"c":800,"n":"0.75","x":65.5,"y":0.5},{"c":800,"n":"1.0","x":65.5,"y":0.61},
{"c":800,"n":"0.01","x":96.5,"y":0.22},{"c":800,"n":"0.05","x":96.5,"y":0.36},{"c":800,"n":"0.15","x":96.5,"y":0.44},{"c":800,"n":"0.30","x":96.5,"y":0.31},{"c":800,"n":"0.50","x":96.5,"y":0.41},{"c":800,"n":"0.75","x":96.5,"y":0.51},{"c":800,"n":"1.0","x":96.5,"y":0.38},
{"c":800,"n":"0.01","x":115.5,"y":0.25},{"c":800,"n":"0.05","x":115.5,"y":0.3},{"c":800,"n":"0.15","x":115.5,"y":0.3},{"c":800,"n":"0.30","x":115.5,"y":0.28},{"c":800,"n":"0.50","x":115.5,"y":0.21},{"c":800,"n":"0.75","x":115.5,"y":0.33},{"c":800,"n":"1.0","x":115.5,"y":0.39},
{"c":1600,"n":"0.01","x":14,"y":0.89},{"c":1600,"n":"0.05","x":14,"y":0.63},{"c":1600,"n":"0.15","x":14,"y":0.62},{"c":1600,"n":"0.30","x":14,"y":0.55},{"c":1600,"n":"0.50","x":14,"y":0.67},{"c":1600,"n":"0.75","x":14,"y":0.59},{"c":1600,"n":"1.0","x":14,"y":0.49},
{"c":1600,"n":"0.01","x":18,"y":0.55},{"c":1600,"n":"0.05","x":18,"y":0.68},{"c":1600,"n":"0.15","x":18,"y":0.6},{"c":1600,"n":"0.30","x":18,"y":0.45},{"c":1600,"n":"0.50","x":18,"y":0.71},{"c":1600,"n":"0.75","x":18,"y":0.52},{"c":1600,"n":"1.0","x":18,"y":0.65},
{"c":1600,"n":"0.01","x":26,"y":0.2},{"c":1600,"n":"0.05","x":26,"y":0.28},{"c":1600,"n":"0.15","x":26,"y":0.55},{"c":1600,"n":"0.30","x":26,"y":0.77},{"c":1600,"n":"0.50","x":26,"y":0.47},{"c":1600,"n":"0.75","x":26,"y":0.56},{"c":1600,"n":"1.0","x":26,"y":0.63},
{"c":1600,"n":"0.01","x":36,"y":0.29},{"c":1600,"n":"0.05","x":36,"y":0.36},{"c":1600,"n":"0.15","x":36,"y":0.54},{"c":1600,"n":"0.30","x":36,"y":0.69},{"c":1600,"n":"0.50","x":36,"y":0.44},{"c":1600,"n":"0.75","x":36,"y":0.67},{"c":1600,"n":"1.0","x":36,"y":0.39},
{"c":1600,"n":"0.01","x":44,"y":0.12},{"c":1600,"n":"0.05","x":44,"y":0.3},{"c":1600,"n":"0.15","x":44,"y":0.5},{"c":1600,"n":"0.30","x":44,"y":0.52},{"c":1600,"n":"0.50","x":44,"y":0.45},{"c":1600,"n":"0.75","x":44,"y":0.48},{"c":1600,"n":"1.0","x":44,"y":0.57},
{"c":1600,"n":"0.01","x":55,"y":0.15},{"c":1600,"n":"0.05","x":55,"y":0.38},{"c":1600,"n":"0.15","x":55,"y":0.57},{"c":1600,"n":"0.30","x":55,"y":0.52},{"c":1600,"n":"0.50","x":55,"y":0.34},{"c":1600,"n":"0.75","x":55,"y":0.4},{"c":1600,"n":"1.0","x":55,"y":0.46},
{"c":1600,"n":"0.01","x":65.5,"y":0.17},{"c":1600,"n":"0.05","x":65.5,"y":0.3},{"c":1600,"n":"0.15","x":65.5,"y":0.6},{"c":1600,"n":"0.30","x":65.5,"y":0.58},{"c":1600,"n":"0.50","x":65.5,"y":0.32},{"c":1600,"n":"0.75","x":65.5,"y":0.54},{"c":1600,"n":"1.0","x":65.5,"y":0.64},
{"c":1600,"n":"0.01","x":96.5,"y":0.52},{"c":1600,"n":"0.05","x":96.5,"y":0.2},{"c":1600,"n":"0.15","x":96.5,"y":0.5},{"c":1600,"n":"0.30","x":96.5,"y":0.54},{"c":1600,"n":"0.50","x":96.5,"y":0.3},{"c":1600,"n":"0.75","x":96.5,"y":0.44},{"c":1600,"n":"1.0","x":96.5,"y":0.63},
{"c":1600,"n":"0.01","x":115.5,"y":0.12},{"c":1600,"n":"0.05","x":115.5,"y":0.22},{"c":1600,"n":"0.15","x":115.5,"y":0.35},{"c":1600,"n":"0.30","x":115.5,"y":0.41},{"c":1600,"n":"0.50","x":115.5,"y":0.3},{"c":1600,"n":"0.75","x":115.5,"y":0.27},{"c":1600,"n":"1.0","x":115.5,"y":0.38}
]
},
"spacing": 48,
"hconcat": [
 {
  "title": {"text": "A. Accuracy", "anchor": "start", "fontSize": 16, "fontWeight": "normal", "color": "#222", "offset": 13},
  "vconcat": [{
   "title": {"text": "% Difference", "orient": "left", "anchor": "middle", "frame": "bounds", "fontSize": 14.5, "fontWeight": "normal", "color": "#333", "offset": 7},
   "vconcat": [{
    "data": {"name": "a"},
    "title": {"text": "Expected MW, kD", "orient": "bottom", "anchor": "middle", "frame": "bounds", "fontSize": 14.5, "fontWeight": "normal", "color": "#333", "offset": 12},
    "columns": 3,
    "spacing": {"column": 0, "row": 23},
    "facet": {"field": "c", "type": "ordinal", "header": {"title": null, "labelExpr": "format(datum.value, ',') + ' ng/µl protein'", "labelFontSize": 14, "labelColor": "#333", "labelPadding": 11}},
    "spec": {
     "width": 194, "height": 180,
     "mark": {"type": "point", "shape": "triangle-up", "filled": true, "size": 78, "stroke": "#000", "strokeWidth": 1, "opacity": 1},
     "encoding": {
      "x": {"field": "x", "type": "quantitative", "scale": {"domain": [3, 128], "nice": false, "zero": false}, "axis": {"values": [20, 40, 60, 80, 100, 120], "title": null, "tickSize": 6}},
      "y": {"field": "y", "type": "quantitative", "scale": {"domain": [-15, 15], "nice": false}, "axis": {"values": [-15, -10, -5, 0, 5, 10, 15], "title": null, "tickSize": 10, "gridColor": {"condition": {"test": "datum.value === 0", "value": "#b3b3b3"}, "value": "#d9d9d9"}}},
      "color": {"field": "n", "type": "nominal", "scale": {"domain": ["1.0", "0.75", "0.50", "0.30", "0.15", "0.05", "0.01"], "range": ["#e8211f", "#a5c8ea", "#5cb946", "#111111", "#f2e93b", "#8b1a4e", "#2b4c9f"]},
       "legend": {"title": "[NaCl]:", "orient": "none", "legendX": -62, "legendY": 476, "direction": "horizontal", "columns": 7, "columnPadding": 58, "titleOrient": "left", "titlePadding": 48, "titleFontSize": 15, "titleFontWeight": "normal", "titleColor": "#333", "labelFontSize": 15, "labelColor": "#333", "labelOffset": 6, "labelExpr": "datum.label + ' M'", "symbolSize": 441, "symbolType": "M-1,-0.15L1,-0.15L1,0.15L-1,0.15Z", "symbolStrokeWidth": 0,
        "encode": {"symbols": {"update": {"shape": {"value": "M-1,-0.15L1,-0.15L1,0.15L-1,0.15Z"}, "stroke": {"value": "transparent"}, "strokeWidth": {"value": 0}, "size": {"value": 441}, "opacity": {"value": 1}}}}}}
     }
    }
   }]
  }]
 },
 {
  "title": {"text": "B. Reproducibility", "anchor": "start", "fontSize": 16, "fontWeight": "normal", "color": "#222", "offset": 13},
  "vconcat": [{
   "title": {"text": "%CV", "orient": "left", "anchor": "middle", "frame": "bounds", "fontSize": 14.5, "fontWeight": "normal", "color": "#333", "offset": 14},
   "vconcat": [{
    "data": {"name": "b"},
    "title": {"text": "Expected MW, kD", "orient": "bottom", "anchor": "middle", "frame": "bounds", "fontSize": 14.5, "fontWeight": "normal", "color": "#333", "offset": 12},
    "columns": 3,
    "spacing": {"column": 0, "row": 23},
    "facet": {"field": "c", "type": "ordinal", "header": {"title": null, "labelExpr": "format(datum.value, ',') + ' ng/µl protein'", "labelFontSize": 14, "labelColor": "#333", "labelPadding": 11}},
    "spec": {
     "width": 196, "height": 180,
     "mark": {"type": "point", "shape": "circle", "filled": true, "size": 100, "stroke": "#6b6b6b", "strokeWidth": 1, "opacity": 1},
     "encoding": {
      "x": {"field": "x", "type": "quantitative", "scale": {"domain": [3, 128], "nice": false, "zero": false}, "axis": {"values": [20, 40, 60, 80, 100, 120], "title": null, "tickSize": 6}},
      "y": {"field": "y", "type": "quantitative", "scale": {"domain": [0, 2], "nice": false}, "axis": {"values": [0, 0.5, 1, 1.5, 2], "format": "~g", "title": null, "tickSize": 10}},
      "color": {"field": "n", "type": "nominal", "scale": {"domain": ["1.0", "0.75", "0.50", "0.30", "0.15", "0.05", "0.01"], "range": ["#e8211f", "#a5c8ea", "#5cb946", "#111111", "#f2e93b", "#8b1a4e", "#2b4c9f"]},
       "legend": {"title": "[NaCl]:", "orient": "none", "legendX": -62, "legendY": 476, "direction": "horizontal", "columns": 7, "columnPadding": 58, "titleOrient": "left", "titlePadding": 48, "titleFontSize": 15, "titleFontWeight": "normal", "titleColor": "#333", "labelFontSize": 15, "labelColor": "#333", "labelOffset": 6, "labelExpr": "datum.label + ' M'", "symbolSize": 441, "symbolType": "M-1,-0.15L1,-0.15L1,0.15L-1,0.15Z", "symbolStrokeWidth": 0,
        "encode": {"symbols": {"update": {"shape": {"value": "M-1,-0.15L1,-0.15L1,0.15L-1,0.15Z"}, "stroke": {"value": "transparent"}, "strokeWidth": {"value": 0}, "size": {"value": 441}, "opacity": {"value": 1}}}}}}
     }
    }
   }]
  }]
 }
]
}
